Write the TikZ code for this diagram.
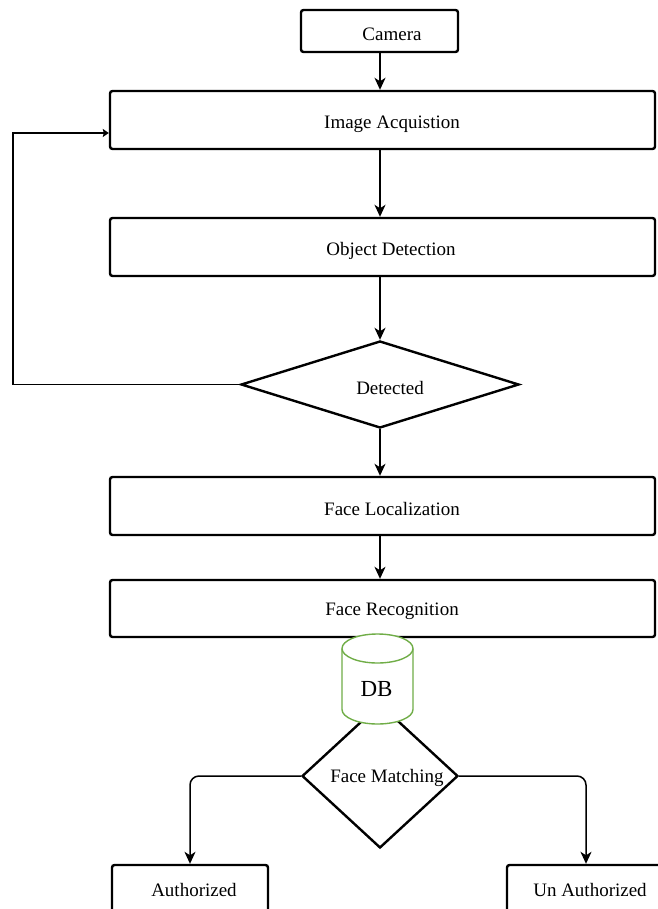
\documentclass[tikz,border=0pt]{standalone}
\usepackage{fontspec}
\setmainfont{Liberation Serif}
\usetikzlibrary{shapes.geometric,arrows.meta}
\definecolor{dbgreen}{RGB}{112,173,71}
\begin{document}
\begin{tikzpicture}[x=1pt,y=-1pt,
  txt/.style={font=\fontsize{19}{21}\selectfont, inner sep=0pt},
  box/.style={draw, line width=2.4pt, rounded corners=2.5pt, inner sep=0pt},
  decision/.style={draw, diamond, line width=2.4pt, inner sep=0pt},
  flow/.style={line width=1.5pt, -{Stealth[length=12pt,width=11pt,inset=3.5pt]}},
  back/.style={line width=1.2pt, -{Stealth[length=6pt,width=8pt,inset=1pt]}}]
\fill[white] (0,0) rectangle (657,909);
\useasboundingbox (0,0) rectangle (657,909);

\node[box, minimum width=157pt, minimum height=42pt, label={[txt,xshift=12.5pt,yshift=-3pt]center:Camera}] (cam) at (379.5,31) {};
\node[box, minimum width=545pt, minimum height=58pt, label={[txt,xshift=9.5pt,yshift=-4pt]center:Image Acquistion}] (acq) at (382.5,120) {};
\node[box, minimum width=545pt, minimum height=58pt, label={[txt,xshift=8.5pt,yshift=-4pt]center:Object Detection}] (det) at (382.5,247) {};
\node[decision, minimum width=278pt, minimum height=87pt, aspect=3.2, label={[txt,xshift=10pt,yshift=-3.5pt]center:Detected}] (dt) at (380,384.5) {};
\node[box, minimum width=545pt, minimum height=58pt, label={[txt,xshift=9.5pt,yshift=-3pt]center:Face Localization}] (loc) at (382.5,506) {};
\node[box, minimum width=545pt, minimum height=57pt, label={[txt,xshift=9.5pt,yshift=-2.5pt]center:Face Recognition}] (rec) at (382.5,608.5) {};
\node[decision, minimum width=156pt, minimum height=144pt, aspect=1.08, label={[txt,xshift=7pt,yshift=-2pt]center:Face Matching}] (fm) at (380,776) {};
\node[box, minimum width=156pt, minimum height=60pt, label={[txt,xshift=4pt,yshift=5pt]center:Authorized}] (auth) at (190,895) {};
\node[box, minimum width=158pt, minimum height=60pt, label={[txt,xshift=4pt,yshift=5pt]center:Un Authorized}] (unauth) at (586,895) {};

% database cylinder
\draw[dbgreen, line width=1.4pt, fill=white]
  (342,648.5) -- (342,709.5)
  arc[start angle=180, end angle=360, x radius=35.5pt, y radius=14.5pt]
  -- (413,648.5)
  arc[start angle=0, end angle=180, x radius=35.5pt, y radius=14.5pt] -- cycle;
\draw[dbgreen, line width=1.4pt]
  (342,648.5) arc[start angle=180, end angle=360, x radius=35.5pt, y radius=14.5pt];
\node[font=\fontsize{23}{25}\selectfont, inner sep=0pt] (db) at (376.5,689) {DB};

% connectors
\coordinate (sp) at (380,0);
\draw[flow] (sp |- cam.south) -- (sp |- acq.north);
\draw[flow] (sp |- acq.south) -- (sp |- det.north);
\draw[flow] (sp |- det.south) -- (dt.north);
\draw[flow] (dt.south) -- (sp |- loc.north);
\draw[flow] (sp |- loc.south) -- (sp |- rec.north);
\coordinate (fb) at (13,133);
\draw[back] (dt.west) -| (fb) -- ([yshift=-13pt]acq.west);
\draw[flow, rounded corners=9pt] (fm.west) -| (auth.north);
\draw[flow, rounded corners=9pt] (fm.east) -| (unauth.north);
\end{tikzpicture}
\end{document}
